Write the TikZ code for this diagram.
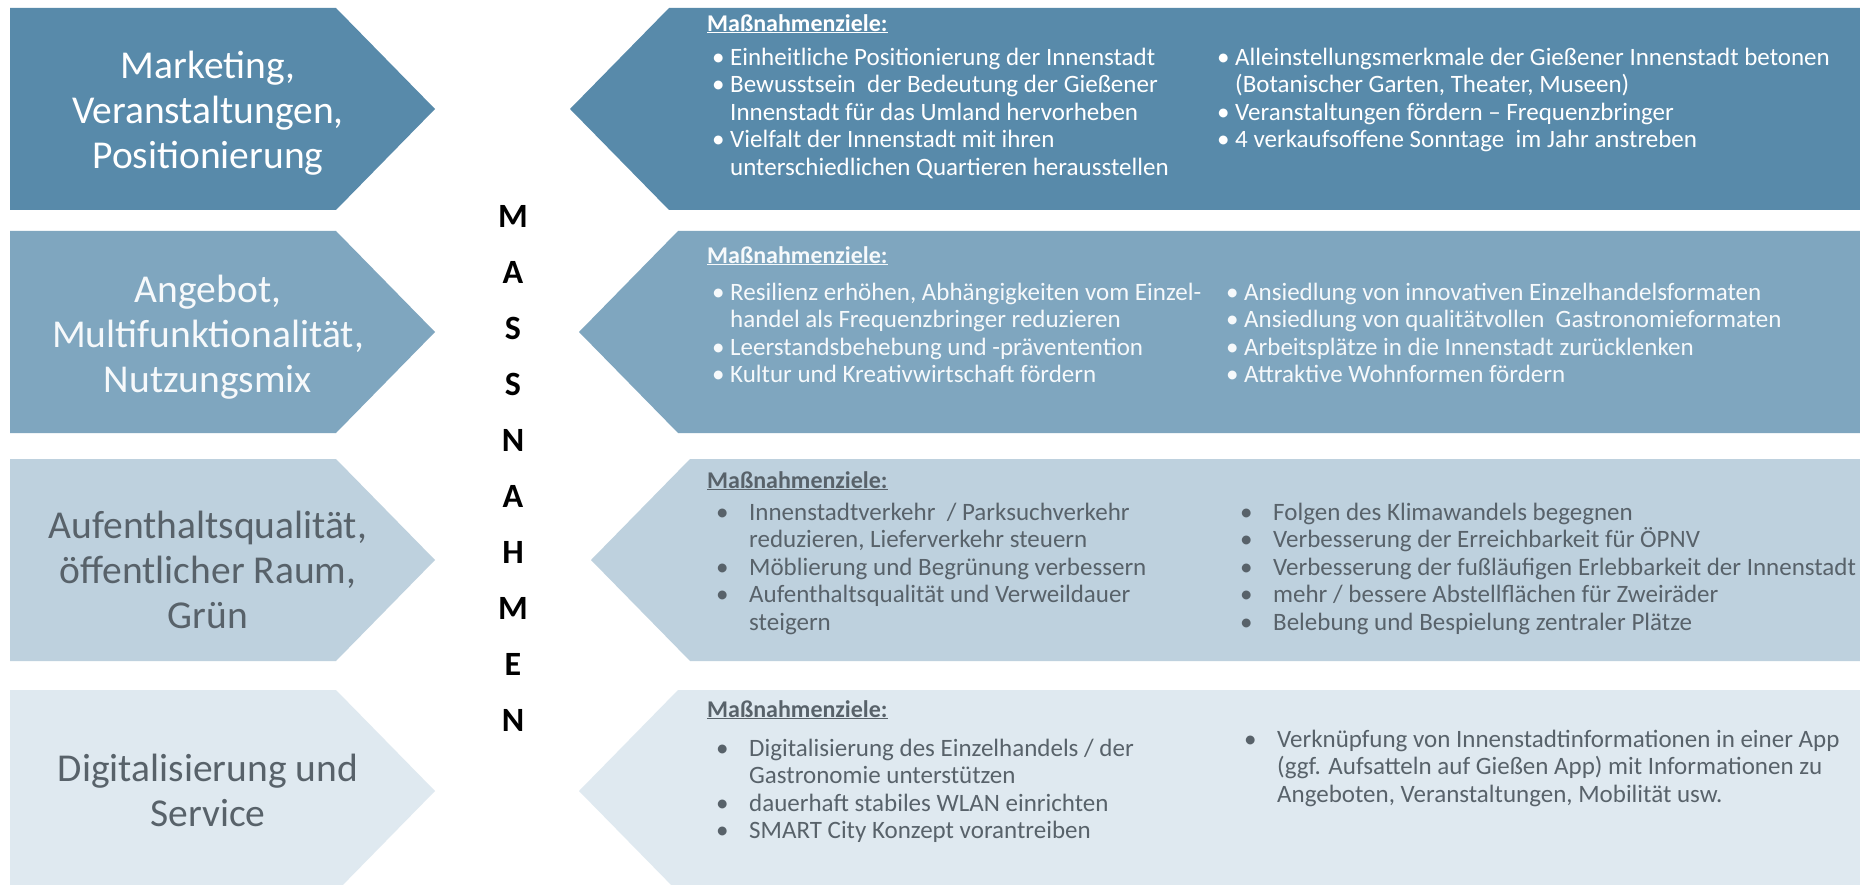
\documentclass[tikz,border=0pt]{standalone}
\usepackage{fontspec}
\setmainfont{Carlito}
\definecolor{rowa}{RGB}{88,138,170}
\definecolor{rowb}{RGB}{127,166,191}
\definecolor{rowc}{RGB}{190,209,222}
\definecolor{rowd}{RGB}{223,233,240}
\definecolor{txtdark}{RGB}{88,98,106}
\definecolor{txtlight}{RGB}{246,249,251}
\newcommand{\bu}{\makebox[18pt][l]{\textbullet}}
\newcommand{\bi}{\hspace*{18pt}}
\newcommand{\bw}{\makebox[33pt][l]{\textbullet}}
\newcommand{\bwi}{\hspace*{33pt}}
\tikzset{
  lbl/.style={align=center, inner sep=0pt, font=\fontsize{39.5}{45}\selectfont},
  zielhead/.style={anchor=north west, inner sep=0pt, font=\fontsize{24}{27}\selectfont\bfseries},
  zielbody/.style={anchor=north west, inner sep=0pt, align=left, font=\fontsize{25}{27.4}\selectfont},
  massletter/.style={inner sep=0pt, font=\fontsize{34}{34}\selectfont\bfseries}
}
\begin{document}
\begin{tikzpicture}[x=1pt,y=-1pt]
\useasboundingbox (0,0) rectangle (1860,885);
\fill[white] (0,0) rectangle (1860,885);
\clip (0,0) rectangle (1860,885);
% rows: top/bottom/tip of right arrow/colour
\foreach \ya/\yb/\tip/\col in {8/210/570/rowa,231/433/579/rowb,459/661/591/rowc,690/892/579/rowd}{
  \fill[\col] (10,\ya) -- (336,\ya) -- (435,{(\ya+\yb)/2}) -- (336,\yb) -- (10,\yb) -- cycle;
  \fill[\col] (\tip,{(\ya+\yb)/2}) -- (\tip+99,\ya) -- (1860,\ya) -- (1860,\yb) -- (\tip+99,\yb) -- cycle;
}

% left labels
\node[lbl,white] (lblA) at (208,113) {Marketing,\\Veranstaltungen,\\Positionierung};
\node[lbl,txtlight] (lblB) at (208,337) {Angebot,\\Multifunktionalität,\\Nutzungsmix};
\node[lbl,txtdark] (lblC) at (208,570) {Aufenthaltsqualität,\\öffentlicher Raum,\\Grün};
\node[lbl,txtdark] (lblD) at (208,790) {Digitalisierung und\\Service};

% middle word
\foreach \ch [count=\i from 0] in {M,A,S,S,N,A,H,M,E,N}
  \node[massletter] (mass\i) at (513,216+56*\i) {\ch};

% row 1
\node[zielhead,white] (headA) at (707,14) {\underline{Maßnahmenziele:}};
\node[zielbody,white] (zielA1) at (712,48) {\bu Einheitliche Positionierung der Innenstadt\\
  \bu Bewusstsein\ \ der Bedeutung der Gießener\\
  \bi Innenstadt für das Umland hervorheben\\
  \bu Vielfalt der Innenstadt mit ihren\\
  \bi unterschiedlichen Quartieren herausstellen};
\node[zielbody,white] (zielA2) at (1217,48) {\bu Alleinstellungsmerkmale der Gießener Innenstadt betonen\\
  \bi (Botanischer Garten, Theater, Museen)\\
  \bu Veranstaltungen fördern – Frequenzbringer\\
  \bu 4 verkaufsoffene Sonntage\ \ im Jahr anstreben};

% row 2
\node[zielhead,txtlight] (headB) at (707,246) {\underline{Maßnahmenziele:}};
\node[zielbody,txtlight] (zielB1) at (712,283) {\bu Resilienz erhöhen, Abhängigkeiten vom Einzel-\\
  \bi handel als Frequenzbringer reduzieren\\
  \bu Leerstandsbehebung und -präventention\\
  \bu Kultur und Kreativwirtschaft fördern};
\node[zielbody,txtlight] (zielB2) at (1226,283) {\bu Ansiedlung von innovativen Einzelhandelsformaten\\
  \bu Ansiedlung von qualitätvollen\ \ Gastronomieformaten\\
  \bu Arbeitsplätze in die Innenstadt zurücklenken\\
  \bu Attraktive Wohnformen fördern};

% row 3
\node[zielhead,txtdark] (headC) at (707,471) {\underline{Maßnahmenziele:}};
\node[zielbody,txtdark] (zielC1) at (716,503) {\bw Innenstadtverkehr\ \ / Parksuchverkehr\\
  \bwi reduzieren, Lieferverkehr steuern\\
  \bw Möblierung und Begrünung verbessern\\
  \bw Aufenthaltsqualität und Verweildauer\\
  \bwi steigern};
\node[zielbody,txtdark] (zielC2) at (1240,503) {\bw Folgen des Klimawandels begegnen\\
  \bw Verbesserung der Erreichbarkeit für ÖPNV\\
  \bw Verbesserung der fußläufigen Erlebbarkeit der Innenstadt\\
  \bw mehr / bessere Abstellflächen für Zweiräder\\
  \bw Belebung und Bespielung zentraler Plätze};

% row 4
\node[zielhead,txtdark] (headD) at (707,700) {\underline{Maßnahmenziele:}};
\node[zielbody,txtdark] (zielD1) at (716,739) {\bw Digitalisierung des Einzelhandels / der\\
  \bwi Gastronomie unterstützen\\
  \bw dauerhaft stabiles WLAN einrichten\\
  \bw SMART City Konzept vorantreiben};
\node[zielbody,txtdark] (zielD2) at (1244,730) {\bw Verknüpfung von Innenstadtinformationen in einer App\\
  \bwi (ggf. Aufsatteln auf Gießen App) mit Informationen zu\\
  \bwi Angeboten, Veranstaltungen, Mobilität usw.};
\end{tikzpicture}
\end{document}
